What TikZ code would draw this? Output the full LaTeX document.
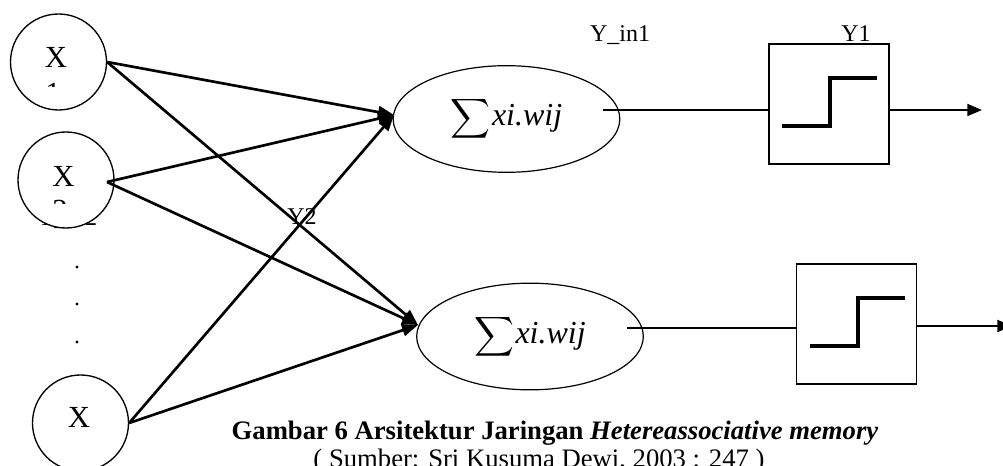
\documentclass[tikz,border=0pt]{standalone}
\usepackage{exscale}
\usepackage{fontspec}
\setmainfont{Liberation Serif}
\usetikzlibrary{shapes.geometric,arrows.meta}

\begin{document}
\begin{tikzpicture}[x=0.75pt,y=-0.75pt,
  neuron/.style={circle,draw,line width=1pt,minimum size=72pt,inner sep=0pt,fill=white},
  xlab/.style={font=\fontsize{23}{25}\selectfont,inner sep=0pt},
  sumnode/.style={ellipse,draw,line width=0.9pt,minimum width=170pt,minimum height=80pt,inner sep=0pt},
  actbox/.style={rectangle,draw,line width=1pt,minimum width=90pt,minimum height=90pt,inner sep=0pt},
  wire/.style={line width=2pt,-{Triangle[length=12pt,width=9pt]}},
  feed/.style={line width=1pt},
  outwire/.style={line width=1.5pt,-{Triangle[length=11pt,width=9pt]}},
  stepline/.style={line width=3.4pt,line join=miter},
  lbl/.style={font=\fontsize{18}{20}\selectfont,inner sep=0pt},
  dotmark/.style={circle,fill,minimum size=2.6pt,inner sep=0pt},
]
\useasboundingbox (0,0) rectangle (1003,466);

% label partly hidden behind the second input neuron
\node[lbl,anchor=base] (yin2) at (67,226) {Y\_in2};

% input neurons
\node[neuron] (c1) at (58.5,62) {};
\node[neuron] (c2) at (66,180) {};
\node[neuron] (c3) at (80.5,423) {};
\node[xlab] (x1) at (56,57.5) {X};
\node[xlab] (x2) at (63.5,176) {X};
\node[xlab] (x3) at (79,417.5) {X};

% subscripts cut off by their text frames
\begin{scope}
  \clip (40,82.5) rectangle (70,86.5);
  \node[xlab,anchor=base] (sub1) at (53,103.5) {1};
\end{scope}
\begin{scope}
  \clip (45,199.5) rectangle (80,203.5);
  \node[xlab,anchor=base] (sub2) at (60,220.5) {2};
\end{scope}

% vertical ellipsis between the inputs
\node[dotmark] (d1) at (77,267) {};
\node[dotmark] (d2) at (77,304) {};
\node[dotmark] (d3) at (77,342) {};

% summation units
\newcommand{\sumlabel}{\fontsize{22}{24}\selectfont$\displaystyle\sum$\kern1pt\fontsize{24}{26}\selectfont\textit{xi.wij}}
\node[sumnode] (e1) at (506.5,119) {\sumlabel};
\node[sumnode] (e2) at (530,336.5) {\sumlabel};

% labels
\node[lbl,anchor=base] (yin1) at (620,42) {Y\_in1};
\node[lbl,anchor=base] (y1) at (856,42) {Y1};
\node[lbl,anchor=base] (y2) at (302,225) {Y2};

% weighted connections
\coordinate (s2) at (107,182);
\coordinate (t1) at (394,115);
\coordinate (t2) at (418,325);
\draw[wire] (c1.east) -- (t1);
\draw[wire] (c1.east) -- (t2);
\draw[wire] (s2) -- (t1);
\draw[wire] (s2) -- (t2);
\draw[wire] (c3.east) -- (t1);
\draw[wire] (c3.east) -- (t2);

% activation blocks
\node[actbox] (b1) at (829,104) {};
\node[actbox] (b2) at (856.5,324) {};
\draw[stepline] (b1) ++(-47,22) -- ++(48,0) -- ++(0,-48) -- ++(47,0);
\draw[stepline] (b2) ++(-46.5,22) -- ++(48,0) -- ++(0,-48) -- ++(47,0);

% net input to activation
\coordinate (f1) at (603,110);
\coordinate (f2) at (627,328);
\draw[feed] (f1) -- (f1 -| b1.west);
\draw[feed] (f2) -- (f2 -| b2.west);

% outputs
\coordinate (o1) at (982,110);
\coordinate (o2) at (1012,326);
\draw[outwire] (o1 -| b1.east) -- (o1);
\draw[outwire] (o2 -| b2.east) -- (o2);

% caption
\node[anchor=base,inner sep=0pt,font=\bfseries\fontsize{20}{24}\selectfont] (cap1) at (555,440)
  {Gambar 6 Arsitektur Jaringan \textit{Hetereassociative memory}};
\node[anchor=base,inner sep=0pt,font=\fontsize{20}{24}\selectfont] (cap2) at (539,467)
  {( Sumber: Sri Kusuma Dewi, 2003 : 247 )};
\end{tikzpicture}
\end{document}
